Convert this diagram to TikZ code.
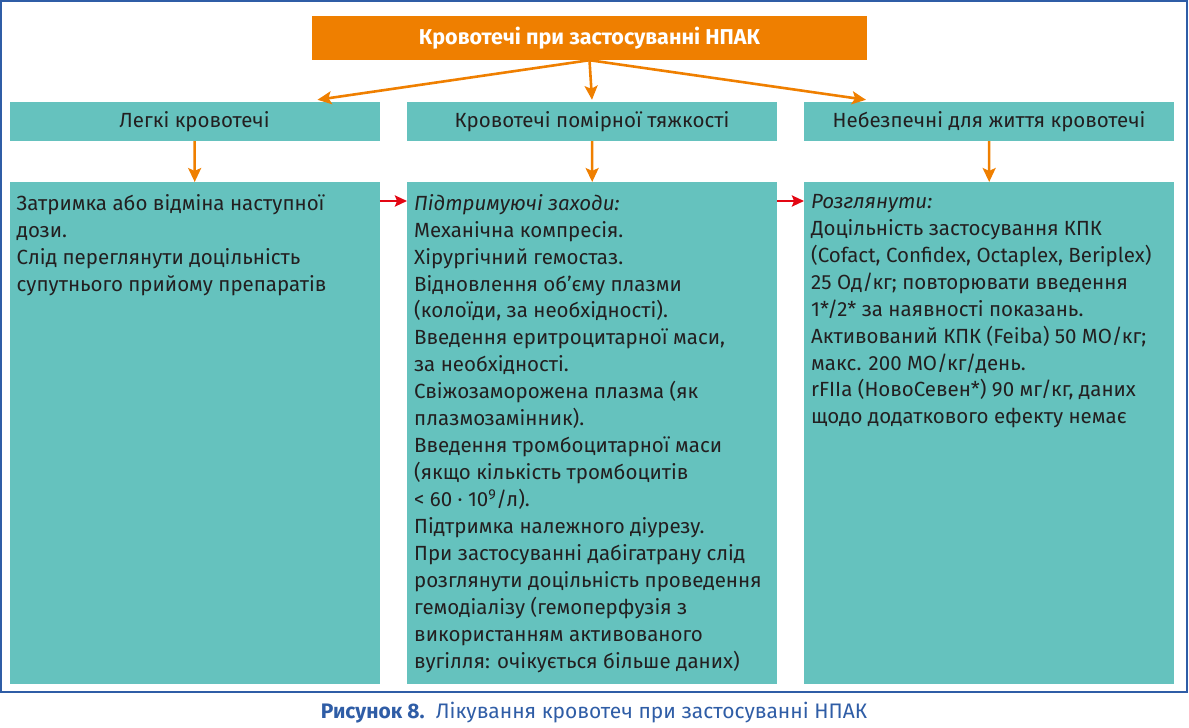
\documentclass[tikz,border=0pt]{standalone}
\usepackage{fontspec}
\setmainfont{Fira Sans}
\usetikzlibrary{arrows.meta, positioning}
\definecolor{npakorange}{HTML}{EF7F00}
\definecolor{npakteal}{HTML}{65C2BE}
\definecolor{npakred}{HTML}{E30613}
\definecolor{npakblue}{HTML}{2F5DA6}
\definecolor{npaktext}{HTML}{231F20}
\begin{document}
\begin{tikzpicture}[x=1pt, y=-1pt,
  top/.style={fill=npakorange, text=white, font=\bfseries\fontsize{21.5}{25}\selectfont,
    minimum width=555pt, minimum height=44pt, inner sep=0pt},
  head/.style={fill=npakteal, text=npaktext, font=\fontsize{20.5}{24}\selectfont,
    minimum width=370pt, minimum height=39pt, inner sep=0pt},
  body/.style={fill=npakteal, text=npaktext, font=\fontsize{20.5}{26.95}\selectfont,
    anchor=north west, inner xsep=7pt, inner ysep=0pt},
  e/.style={-{Stealth[length=14pt, width=13pt, inset=3pt]}, line width=2.6pt, draw=npakorange},
  r/.style={-{Stealth[length=12pt, width=11pt, inset=2pt]}, line width=2.4pt, draw=npakred}]
  \useasboundingbox (0,0) rectangle (1189,728);
  \draw[npakblue, line width=1.5pt] (1,1) rectangle (1187,692);
  \node[top] (npak) at (589.5,38) {Кровотечі при застосуванні НПАК};
  \node[head] (mild) at (194.5,121.5) {Легкі кровотечі};
  \node[head] (moderate) at (592,121.5) {Кровотечі помірної тяжкості};
  \node[head] (severe) at (989,121.5) {Небезпечні для життя кровотечі};
  \node[body] (mildtext) at (9.5,182) {\parbox[t][502pt][t]{356pt}{\vspace*{12pt}\raggedright
    Затримка або відміна наступної\\
    дози.\\
    Слід переглянути доцільність\\
    супутнього прийому препаратів}};
  \node[body] (moderatetext) at (407,182) {\parbox[t][502pt][t]{356pt}{\vspace*{12pt}\raggedright
    \textit{Підтримуючі заходи:}\\
    Механічна компресія.\\
    Хірургічний гемостаз.\\
    Відновлення об’єму плазми\\
    (колоїди, за необхідності).\\
    Введення еритроцитарної маси,\\
    за необхідності.\\
    Свіжозаморожена плазма (як\\
    плазмозамінник).\\
    Введення тромбоцитарної маси\\
    (якщо кількість тромбоцитів\\
    < 60 · 10\textsuperscript{9}/л).\\
    Підтримка належного діурезу.\\
    При застосуванні дабігатрану слід\\
    розглянути доцільність проведення\\
    гемодіалізу (гемоперфузія з\\
    використанням активованого\\
    вугілля: очікується більше даних)}};
  \node[body] (severetext) at (804,182) {\parbox[t][502pt][t]{356pt}{\vspace*{12pt}\raggedright
    \textit{Розглянути:}\\
    Доцільність застосування КПК\\
    (Cofact, Confidex, Octaplex, Beriplex)\\
    25 Од/кг; повторювати введення\\
    1*/2* за наявності показань.\\
    Активований КПК (Feiba) 50 МО/кг;\\
    макс. 200 МО/кг/день.\\
    rFIIa (НовоСевен*) 90 мг/кг, даних\\
    щодо додаткового ефекту немає}};
  \draw[e] (npak.south) -- ([xshift=123pt, yshift=2pt]mild.north);
  \draw[e] (npak.south) -- ([yshift=2pt]moderate.north);
  \draw[e] (npak.south) -- ([xshift=-123pt, yshift=2pt]severe.north);
  \draw[e] (mild) -- (mildtext.north);
  \draw[e] (moderate) -- (moderatetext.north);
  \draw[e] (severe) -- (severetext.north);
  \draw[r] ([yshift=-19pt]mildtext.north east) -- ([yshift=-19pt]moderatetext.north west);
  \draw[r] ([yshift=-19pt]moderatetext.north east) -- ([yshift=-19pt]severetext.north west);
  \node[text=npakblue, font=\fontsize{21}{24}\selectfont] (caption) at (594,713)
    {\textbf{Рисунок 8.}\ \ Лікування кровотеч при застосуванні НПАК};
\end{tikzpicture}
\end{document}
